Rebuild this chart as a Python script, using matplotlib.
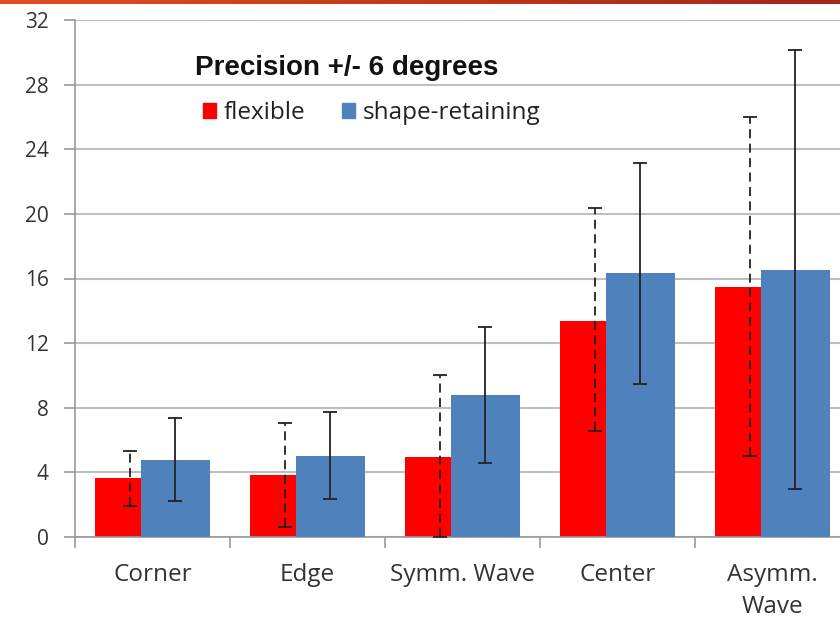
import numpy as np
import matplotlib.pyplot as plt
from matplotlib.patches import Patch
from matplotlib.colors import LinearSegmentedColormap

# Values
categories = ['Corner', 'Edge', 'Symm. Wave', 'Center', 'Asymm.\nWave']
flexible = [3.65, 3.85, 4.95, 13.4, 15.5]
flexible_hi = [5.3, 7.05, 10.0, 20.35, 26.0]
flexible_lo = [1.9, 0.6, 0.0, 6.55, 5.0]
shape = [4.75, 5.0, 8.8, 16.35, 16.5]
shape_hi = [7.35, 7.75, 13.0, 23.15, 30.15]
shape_lo = [2.2, 2.35, 4.6, 9.5, 3.0]
yticks = [0, 4, 8, 12, 16, 20, 24, 28, 32]

red = '#ff0000'
blue = '#4f81bd'
plt.rcParams['font.family'] = ['Open Sans', 'DejaVu Sans']

fig = plt.figure(figsize=(8.4, 6.25), dpi=100)
ax = fig.add_axes([75 / 840, 88 / 625, 775 / 840, 517 / 625])

x = np.arange(len(categories))
width = 0.445
offset = 0.148

flex = np.array(flexible)
shp = np.array(shape)
ax.bar(x - offset, flex, width, color=red, zorder=2)
ax.bar(x + offset, shp, width, color=blue, zorder=3)

eb1 = ax.errorbar(x - offset, flex,
                  yerr=[flex - np.array(flexible_lo), np.array(flexible_hi) - flex],
                  fmt='none', ecolor='#222222', elinewidth=1.3, capsize=5,
                  capthick=1.3, zorder=4)
eb1[2][0].set_linestyle((0, (5, 3)))
for cap in eb1[1]:
    cap.set_color('#555555')
ax.errorbar(x + offset, shp,
            yerr=[shp - np.array(shape_lo), np.array(shape_hi) - shp],
            fmt='none', ecolor='#222222', elinewidth=1.3, capsize=5,
            capthick=1.3, zorder=4)

ax.set_ylim(0, 32)
ax.set_yticks(yticks)
ax.set_xlim(-0.5, len(categories) - 0.5)
ax.yaxis.grid(True, color='#bfbfbf', linewidth=1.5, zorder=0)
ax.set_axisbelow(True)

# category ticks on the boundaries, labels at the centres
ax.set_xticks(np.arange(len(categories) + 1) - 0.5)
ax.set_xticklabels([])
ax.set_xticks(x, minor=True)
ax.set_xticklabels(categories, minor=True, fontsize=17.5, color='#333333',
                   linespacing=1.4)
ax.tick_params(axis='x', which='minor', length=0, pad=19)
ax.tick_params(axis='x', which='major', length=8, width=1.2, color='#999999')
ax.tick_params(axis='y', length=8, width=1.2, color='#999999', pad=11,
               labelsize=15, labelcolor='#333333')

for side in ['top', 'right']:
    ax.spines[side].set_visible(False)
for side in ['left', 'bottom']:
    ax.spines[side].set_color('#999999')
    ax.spines[side].set_linewidth(1.2)

# legend: bold title above two entries
fig.text(195 / 840, 1 - 68 / 625, 'Precision +/- 6 degrees', fontsize=20,
         fontweight='bold', family='Liberation Sans', va='center', ha='left',
         color='#111111')
handles = [Patch(color=red, label='flexible'), Patch(color=blue, label='shape-retaining')]
fig.legend(handles=handles, ncol=2, loc='center left',
           bbox_to_anchor=(181 / 840, 1 - 113 / 625),
           frameon=False, fontsize=17.5, handlelength=0.55, handleheight=0.55,
           handletextpad=0.3, columnspacing=1.5, labelcolor='#222222')

# orange-red band along the top edge
band = fig.add_axes([0, 1 - 4 / 625, 1, 4 / 625])
grad = np.linspace(0, 1, 256).reshape(1, -1)
cmap = LinearSegmentedColormap.from_list('band', ['#e14f22', '#c0391b', '#a3261a'])
band.imshow(grad, aspect='auto', cmap=cmap)
band.axis('off')

fig.savefig('out.png', dpi=100)
